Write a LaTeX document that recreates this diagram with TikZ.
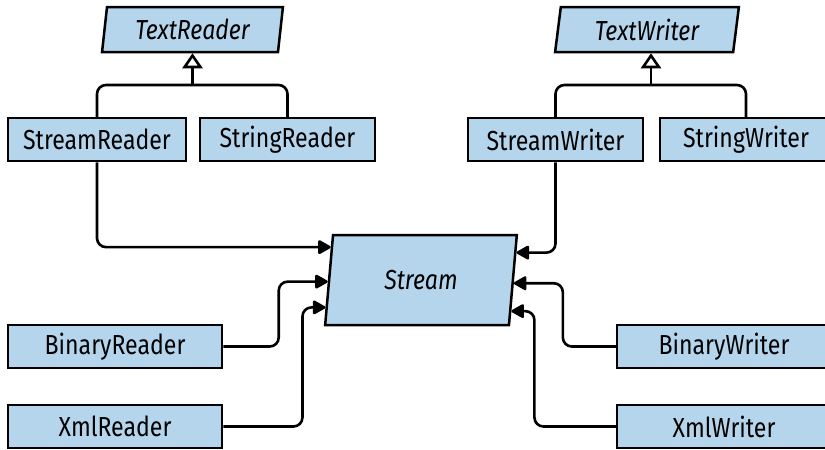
\documentclass[tikz,border=0pt]{standalone}
\usepackage{fontspec}
\setmainfont[FakeStretch=0.84]{Fira Sans}
\usetikzlibrary{shapes.geometric,arrows.meta}
\definecolor{boxblue}{RGB}{180,213,235}
\tikzset{
  cls/.style={draw=black, line width=2.5pt, fill=boxblue, rectangle, minimum height=43pt, inner sep=0pt, font=\fontsize{27.5}{30}\selectfont},
  para/.style={draw=black, line width=2.5pt, fill=boxblue, trapezium, trapezium stretches=true, inner sep=0pt, font=\fontsize{27.5}{30}\selectfont\itshape},
  conn/.style={line width=2.6pt, rounded corners=9pt},
  arr/.style={conn, -{Triangle[length=14pt,width=15pt,round]}},
  inh/.style={line width=2.6pt, -{Triangle[open,length=15pt,width=20pt]}},
}
\begin{document}
\begin{tikzpicture}[x=1pt,y=-1pt]
\useasboundingbox (0,0) rectangle (825,450);
\clip (0,0) rectangle (825,450);
% abstract classes
\node[para, minimum width=181pt, minimum height=45pt, trapezium left angle=81, trapezium right angle=99] (tr) at (192.5,29.5) {TextReader};
\node[para, minimum width=184pt, minimum height=45pt, trapezium left angle=81, trapezium right angle=99] (tw) at (647,29.5) {TextWriter};
\node[para, minimum width=192pt, minimum height=90pt, trapezium left angle=80.5, trapezium right angle=99.5] (st) at (421,280) {Stream};
% concrete classes
\node[cls, minimum width=178pt] (srd) at (97,139.5) {StreamReader};
\node[cls, minimum width=175pt] (sgr) at (287.5,139.5) {StringReader};
\node[cls, minimum width=175pt] (swr) at (555.5,139.5) {StreamWriter};
\node[cls, minimum width=172pt] (sgw) at (746,139.5) {StringWriter};
\node[cls, minimum width=214pt] (brd) at (115,346.5) {BinaryReader};
\node[cls, minimum width=214pt] (xrd) at (115,426.5) {XmlReader};
\node[cls, minimum width=214pt] (bwr) at (724,346.5) {BinaryWriter};
\node[cls, minimum width=214pt] (xwr) at (724,426.5) {XmlWriter};
% inheritance
\coordinate (rj) at (192.5,85);
\coordinate (wj) at (651,85);
\draw[conn] (srd.north) |- (rj) -| (sgr.north);
\draw[inh] (rj) -- (rj |- tr.south);
\draw[conn] (swr.north) |- (wj) -| (sgw.north);
\draw[inh] (wj) -- (wj |- tw.south);
% stream usage
\draw[arr] (srd.south) |- (st.160.9);
\draw[arr] (brd.east) -| ([xshift=-49pt]st.181.9) -- (st.181.9);
\draw[arr] (xrd.east) -| ([xshift=-23pt]st.196.7) -- (st.196.7);
\draw[arr] (swr.south) |- (st.16.2);
\draw[arr] (bwr.west) -| ([xshift=49pt]st.358.05) -- (st.358.05);
\draw[arr] (xwr.west) -| ([xshift=23pt]st.341.5) -- (st.341.5);
\end{tikzpicture}
\end{document}
